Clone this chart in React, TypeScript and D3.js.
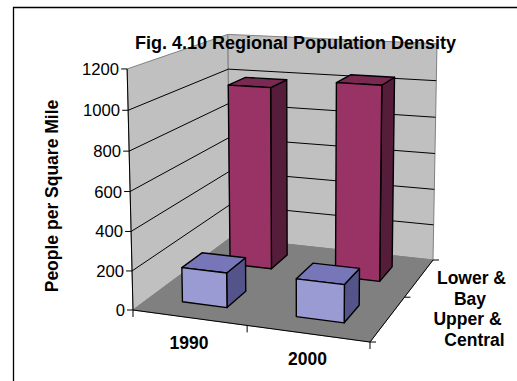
import React from "react";
import * as d3 from "d3";

// ---- data ----
const title = "Fig. 4.10 Regional Population Density";
const valueAxisTitle = "People per Square Mile";
const categories = ["1990", "2000"];
const seriesNames = ["Lower & Bay", "Upper & Central"];
const lowerBayValues = [993, 1040];
const upperCentralValues = [178, 190];
const valueTicks = [0, 200, 400, 600, 800, 1000, 1200];

// ---- layout ----
const W = 517;
const H = 381;
type Pt = [number, number];
// floor corners for (s,t) = (0,0), (1,0), (1,1), (0,1): s runs across categories, t into depth
const FLOOR: Pt[] = [
  [133, 310],
  [370, 342],
  [433, 260],
  [230, 238],
];
// top corners of the walls (height = 1)
const WALL_TOPS: { s: number; t: number; p: Pt }[] = [
  { s: 0, t: 0, p: [127, 68] },
  { s: 0, t: 1, p: [228, 34] },
  { s: 1, t: 1, p: [437, 45] },
];

const FONT = "'Liberation Sans', Arial, Helvetica, sans-serif";
const WALL_FILL = "#c0c0c0";
const FLOOR_FILL = "#808080";
const EDGE = "#808080";
const SERIES_STYLE: Record<string, { front: string; top: string; side: string }> = {
  "Lower & Bay": { front: "#993366", top: "#7a2952", side: "#561d3a" },
  "Upper & Central": { front: "#9b9bd3", top: "#7676b9", side: "#54548a" },
};
// horizontal shift of each wrapped series-label line
const SERIES_LINE_SHIFT: Record<string, number[]> = {
  "Lower & Bay": [1.5, 0],
  "Upper & Central": [-2.5, 4.5],
};

// projective map of the unit square onto the floor quad
function floorHomography(q: Pt[]) {
  const [[x0, y0], [x1, y1], [x2, y2], [x3, y3]] = q;
  const dx1 = x1 - x2, dx2 = x3 - x2, dx3 = x0 - x1 + x2 - x3;
  const dy1 = y1 - y2, dy2 = y3 - y2, dy3 = y0 - y1 + y2 - y3;
  const den = dx1 * dy2 - dx2 * dy1;
  const g = (dx3 * dy2 - dx2 * dy3) / den;
  const h = (dx1 * dy3 - dx3 * dy1) / den;
  return {
    a: x1 - x0 + g * x1,
    b: x3 - x0 + h * x3,
    c: x0,
    d: y1 - y0 + g * y1,
    e: y3 - y0 + h * y3,
    f: y0,
    g,
    h,
  };
}

function det3(m: number[][]) {
  return (
    m[0][0] * (m[1][1] * m[2][2] - m[1][2] * m[2][1]) -
    m[0][1] * (m[1][0] * m[2][2] - m[1][2] * m[2][0]) +
    m[0][2] * (m[1][0] * m[2][1] - m[1][1] * m[2][0])
  );
}

function buildProjection() {
  const H0 = floorHomography(FLOOR);
  // least-squares fit of the vertical column of the camera matrix
  const M = [
    [0, 0, 0],
    [0, 0, 0],
    [0, 0, 0],
  ];
  const r = [0, 0, 0];
  const add = (row: number[], rhs: number) => {
    for (let i = 0; i < 3; i++) {
      for (let j = 0; j < 3; j++) M[i][j] += row[i] * row[j];
      r[i] += row[i] * rhs;
    }
  };
  for (const { s, t, p } of WALL_TOPS) {
    const w = H0.g * s + H0.h * t + 1;
    const nu = H0.a * s + H0.b * t + H0.c;
    const nv = H0.d * s + H0.e * t + H0.f;
    add([1, 0, -p[0]], p[0] * w - nu);
    add([0, 1, -p[1]], p[1] * w - nv);
  }
  const D = det3(M);
  const [qu, qv, qw] = [0, 1, 2].map((k) => {
    const mk = M.map((row, i) => row.map((v, j) => (j === k ? r[i] : v)));
    return det3(mk) / D;
  });
  return (s: number, t: number, y: number): Pt => {
    const w = H0.g * s + H0.h * t + 1 + qw * y;
    return [
      (H0.a * s + H0.b * t + H0.c + qu * y) / w,
      (H0.d * s + H0.e * t + H0.f + qv * y) / w,
    ];
  };
}

const P = buildProjection();
const poly = (pts: Pt[]) => "M" + pts.map((p) => p.map((v) => v.toFixed(2)).join(",")).join("L") + "Z";
const seg = (a: Pt, b: Pt) => `M${a[0].toFixed(2)},${a[1].toFixed(2)}L${b[0].toFixed(2)},${b[1].toFixed(2)}`;

export default function App() {
  const yMax = valueTicks[valueTicks.length - 1];
  const yScale = d3.scaleLinear().domain([0, yMax]).range([0, 1]);
  const xScale = d3.scaleBand<string>().domain(categories).range([0, 1]).paddingInner(0.6).paddingOuter(0.3);
  // front series first along the depth axis
  const depthOrder = [seriesNames[1], seriesNames[0]];
  const zScale = d3.scaleBand<string>().domain(depthOrder).range([0, 1]).paddingInner(0.6).paddingOuter(0.3);
  const valuesBySeries: Record<string, number[]> = {
    [seriesNames[0]]: lowerBayValues,
    [seriesNames[1]]: upperCentralValues,
  };

  const leftWall = [P(0, 0, 0), P(0, 1, 0), P(0, 1, 1), P(0, 0, 1)];
  const backWall = [P(0, 1, 0), P(1, 1, 0), P(1, 1, 1), P(0, 1, 1)];
  const floor = [P(0, 0, 0), P(1, 0, 0), P(1, 1, 0), P(0, 1, 0)];

  const gridValues = valueTicks.filter((v) => v > 0 && v < yMax);

  // columns: back row first, left to right
  const bars: { key: string; faces: { d: string; fill: string }[] }[] = [];
  [...depthOrder].reverse().forEach((series) => {
    const t0 = zScale(series)!;
    const t1 = t0 + zScale.bandwidth();
    const st = SERIES_STYLE[series];
    categories.forEach((cat, i) => {
      const s0 = xScale(cat)!;
      const s1 = s0 + xScale.bandwidth();
      const hgt = yScale(valuesBySeries[series][i]);
      const side = [P(s1, t0, 0), P(s1, t1, 0), P(s1, t1, hgt), P(s1, t0, hgt)];
      const top = [P(s0, t0, hgt), P(s1, t0, hgt), P(s1, t1, hgt), P(s0, t1, hgt)];
      const front = [P(s0, t0, 0), P(s1, t0, 0), P(s1, t0, hgt), P(s0, t0, hgt)];
      bars.push({
        key: series + cat,
        faces: [
          { d: poly(side), fill: st.side },
          { d: poly(top), fill: st.top },
          { d: poly(front), fill: st.front },
        ],
      });
    });
  });

  const catTicks = d3.range(categories.length + 1).map((i) => i / categories.length);
  const depthTicks = d3.range(depthOrder.length + 1).map((i) => i / depthOrder.length);

  return (
    <svg
      width={W}
      height={H}
      viewBox={`0 0 ${W} ${H}`}
      style={{ position: "absolute", left: 0, top: 0, background: "#fff" }}
      fontFamily={FONT}
    >
      <rect x={0} y={0} width={W} height={H} fill="#fff" />
      {/* chart area border */}
      <path d={`M13.5,${H}V7.5H${W}`} fill="none" stroke="#000" strokeWidth={1.3} />

      {/* walls and floor */}
      <path d={poly(leftWall)} fill={WALL_FILL} stroke={EDGE} strokeWidth={1} />
      <path d={poly(backWall)} fill={WALL_FILL} stroke={EDGE} strokeWidth={1} />
      <path d={poly(floor)} fill={FLOOR_FILL} stroke={EDGE} strokeWidth={1} />

      {/* gridlines */}
      {gridValues.map((v) => {
        const y = yScale(v);
        return (
          <g key={"g" + v}>
            <path d={seg(P(0, 0, y), P(0, 1, y))} stroke="#000" strokeWidth={1} fill="none" />
            <path d={seg(P(0, 1, y), P(1, 1, y))} stroke="#000" strokeWidth={1} fill="none" />
          </g>
        );
      })}

      {/* value axis */}
      <path d={seg(P(0, 0, 0), P(0, 0, 1))} stroke="#000" strokeWidth={1} />
      {valueTicks.map((v) => {
        const [x, y] = P(0, 0, yScale(v));
        return (
          <g key={"vt" + v}>
            <path d={`M${x - 6},${y}H${x}`} stroke="#000" strokeWidth={1} />
            <text x={x - 8} y={y} dy="0.36em" textAnchor="end" fontSize={16.7} fill="#000">
              {v}
            </text>
          </g>
        );
      })}

      {/* category axis */}
      <path d={seg(P(0, 0, 0), P(1, 0, 0))} stroke="#000" strokeWidth={1} />
      {catTicks.map((s) => {
        const [x, y] = P(s, 0, 0);
        return <path key={"ct" + s} d={`M${x},${y}V${y + 7}`} stroke="#000" strokeWidth={1} />;
      })}
      {categories.map((c) => {
        const [x, y] = P(xScale(c)! + xScale.bandwidth() / 2, 0, 0);
        return (
          <text key={"cl" + c} x={x} y={y + 31.4} textAnchor="middle" fontSize={17.5} fontWeight="bold" fill="#000">
            {c}
          </text>
        );
      })}

      {/* series (depth) axis */}
      <path d={seg(P(1, 0, 0), P(1, 1, 0))} stroke="#000" strokeWidth={1} />
      {depthTicks.map((t) => {
        const [x, y] = P(1, t, 0);
        return <path key={"dt" + t} d={`M${x},${y}H${x + 6}`} stroke="#000" strokeWidth={1} />;
      })}
      {depthOrder.map((name) => {
        const [, y] = P(1, zScale(name)! + zScale.bandwidth() / 2, 0);
        const lines = name.replace("& ", "&\n").split("\n");
        const cy = y + 11;
        return (
          <text key={"sl" + name} textAnchor="middle" fontSize={17.5} fontWeight="bold" fill="#000">
            {lines.map((ln, i) => (
              <tspan key={i} x={470 + SERIES_LINE_SHIFT[name][i]} y={cy - 5 + i * 21.5}>
                {ln}
              </tspan>
            ))}
          </text>
        );
      })}

      {/* columns */}
      {bars.map((b) => (
        <g key={b.key}>
          {b.faces.map((f, i) => (
            <path key={i} d={f.d} fill={f.fill} stroke="#000" strokeWidth={1.4} strokeLinejoin="round" />
          ))}
        </g>
      ))}

      {/* value axis title */}
      <text
        transform="translate(57.5,196) rotate(-90)"
        textAnchor="middle"
        fontSize={17.5}
        fontWeight="bold"
        fill="#000"
      >
        {valueAxisTitle}
      </text>

      {/* chart title */}
      <text x={295.5} y={49} textAnchor="middle" fontSize={18} fontWeight="bold" fill="#000">
        {title}
      </text>
    </svg>
  );
}
